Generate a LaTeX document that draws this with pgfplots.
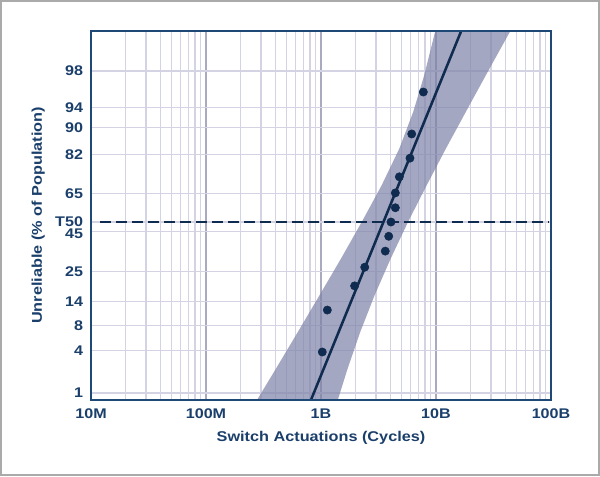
\documentclass[border=0pt]{standalone}
\usepackage{pgfplots}
\pgfplotsset{compat=1.18}
\usepackage{fontspec}
\setmainfont{Liberation Sans}[FakeStretch=1.15]
\definecolor{navy}{HTML}{0F2B4F}
\definecolor{framec}{HTML}{1E4876}
\definecolor{txt}{HTML}{1B3F6B}
\definecolor{gridc}{HTML}{D3D3E3}
\definecolor{gridm}{HTML}{A9AABF}
\definecolor{band}{HTML}{7E82A6}
\definecolor{outer}{HTML}{AAAAAA}
\begin{document}
\begin{tikzpicture}
\useasboundingbox (0pt,0pt) rectangle (450pt,357pt);
\draw[outer, line width=1.5pt] (0.6pt,0.6pt) rectangle (449.4pt,356.4pt);
\begin{axis}[
  name=ax,
  at={(68.25pt,57pt)}, anchor=south west,
  scale only axis, width=345pt, height=276.75pt,
  xmode=log, xmin=1e7, xmax=1e11,
  ymin=-2.422, ymax=2.599,
  xtick={1e7,1e8,1e9,1e10,1e11},
  xticklabels={10M,100M,1B,10B,100B},
  minor xtick={2e7,3e7,4e7,5e7,6e7,7e7,8e7,9e7,2e8,3e8,4e8,5e8,6e8,7e8,8e8,9e8,2e9,3e9,4e9,5e9,6e9,7e9,8e9,9e9,2e10,3e10,4e10,5e10,6e10,7e10,8e10,9e10},
  ytick={-2.326,-1.751,-1.405,-1.080,-0.674,0,0.385,0.915,1.2816,1.555,2.054},
  yticklabels={1,4,8,14,25,T50,65,82,90,94,98},
  extra y ticks={-0.126},
  extra y tick labels={45},
  extra y tick style={grid=major, yticklabel style={yshift=-2.2pt}},
  xmajorgrids, xminorgrids, ymajorgrids,
  major x grid style={gridm, line width=1pt},
  minor x grid style={gridc, line width=1pt},
  major y grid style={gridc, line width=1pt},
  major tick length=0pt, minor tick length=0pt,
  axis line style={framec, line width=1.5pt},
  ticklabel style={font=\bfseries\fontsize{10.5}{12}\selectfont, text=txt},
  xticklabel style={yshift=-3.3pt},
  yticklabel style={xshift=-2.5pt, inner ysep=0.3pt},
  label style={font=\bfseries\fontsize{10.6}{12}\selectfont, text=txt},
  xlabel={Switch Actuations (Cycles)},
  ylabel={Unreliable (\% of Population)},
  x label style={at={(axis description cs:0.5,-0.102)}, anchor=center},
  y label style={at={(axis description cs:-0.115,0.5)}, anchor=center},
]
% confidence band: left edge bottom->top, right edge top->bottom
\addplot[draw=none, fill=band, fill opacity=0.7] coordinates {
  (2.59e8,-2.5) (4.04e8,-2.0) (6.27e8,-1.5) (9.68e8,-1.0) (1.49e9,-0.5)
  (2.26e9,0) (3.37e9,0.5) (4.80e9,1.0) (6.34e9,1.5) (7.91e9,2.0) (1.023e10,2.7)
  (4.81e10,2.7) (2.72e10,2.0) (1.82e10,1.5) (1.22e10,1.0) (8.30e9,0.5)
  (5.71e9,0) (4.03e9,-0.5) (2.92e9,-1.0) (2.19e9,-1.5) (1.70e9,-2.0) (1.35e9,-2.5)
} -- cycle;
% T50 dashed line
\addplot[navy, line width=1.8pt, dash pattern=on 8pt off 4pt] coordinates {(1.2e7,0) (9.5e10,0)};
% fitted line
\addplot[navy, line width=1.9pt] coordinates {(7.35e8,-2.6) (1.76e10,2.7)};
% data points
\addplot[only marks, mark=*, mark size=3.1pt, navy] coordinates {
  (7.76e9,1.769) (6.15e9,1.198) (5.94e9,0.869) (4.80e9,0.615)
  (4.43e9,0.396) (4.43e9,0.194) (4.06e9,0) (3.88e9,-0.194)
  (3.62e9,-0.396) (2.40e9,-0.615) (1.96e9,-0.869) (1.135e9,-1.198)
  (1.026e9,-1.769)
};
\end{axis}
\draw[framec, line width=1.5pt] (ax.south west) rectangle (ax.north east);
\end{tikzpicture}
\end{document}
